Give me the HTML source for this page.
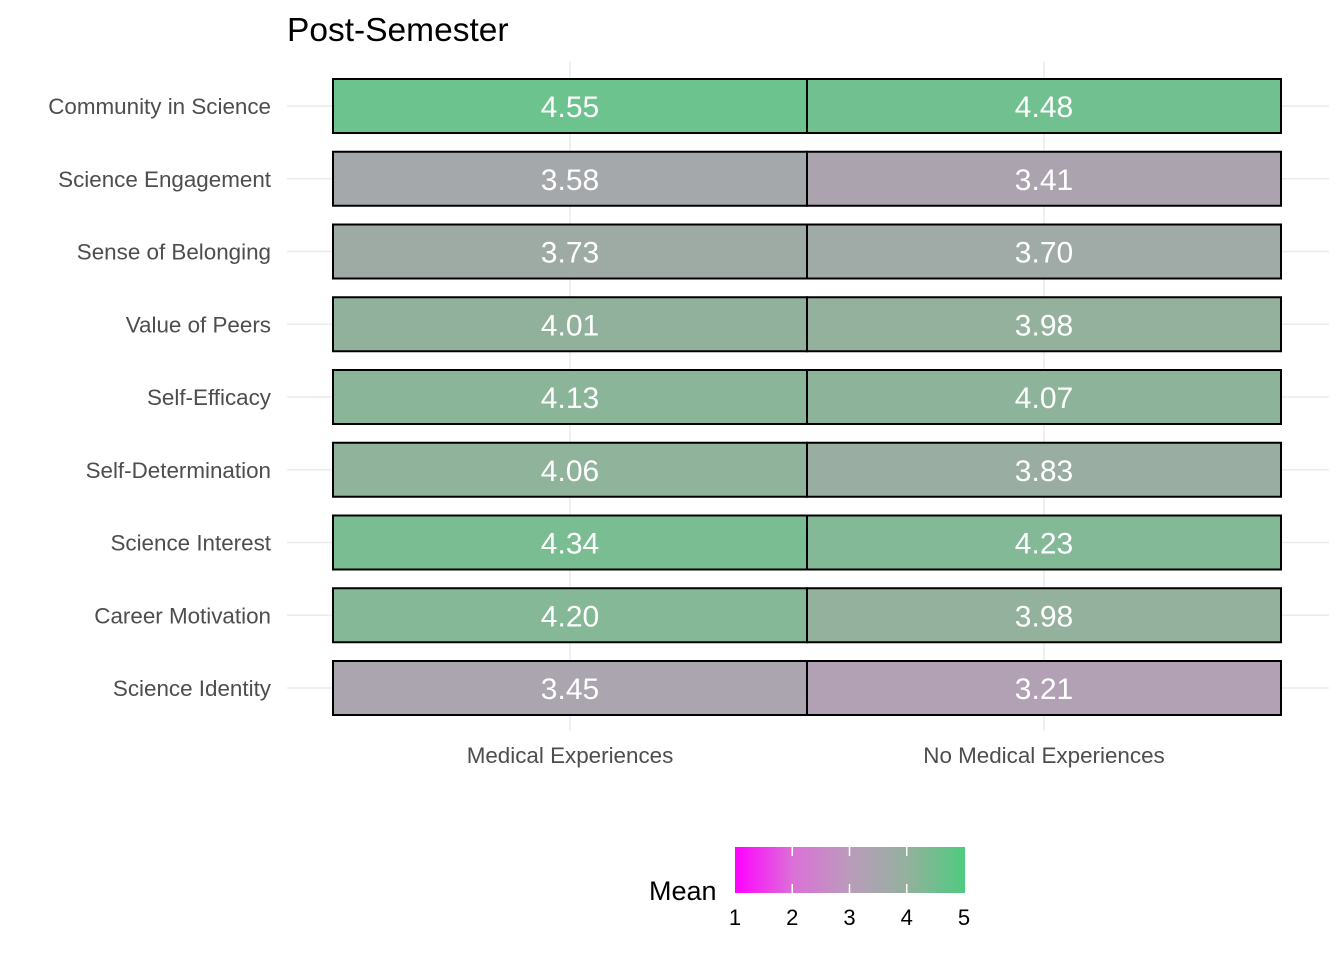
<!DOCTYPE html>
<html><head><meta charset="utf-8"><style>
body{margin:0;background:#fff;font-family:"Liberation Sans",sans-serif}
</style></head><body>
<svg id="c" width="1344" height="960" xmlns="http://www.w3.org/2000/svg">
<defs><linearGradient id="lg" x1="0" x2="1" y1="0" y2="0">
<stop offset="0" stop-color="#ff00ff"/><stop offset="0.25" stop-color="#dc70d8"/><stop offset="0.5" stop-color="#ba9cbb"/><stop offset="0.75" stop-color="#93b19d"/><stop offset="1" stop-color="#4ecb80"/></linearGradient></defs>
<text x="287" y="41" font-size="33.5" fill="#000">Post-Semester</text>
<g id="grid"></g><g id="tiles"></g><g id="labels"></g>
<text x="570" y="763" font-size="22.4" fill="#4d4d4d" text-anchor="middle">Medical Experiences</text>
<text x="1044" y="763" font-size="22.4" fill="#4d4d4d" text-anchor="middle">No Medical Experiences</text>
<g>
<text x="649" y="900" font-size="27" fill="#000">Mean</text>
<rect x="735" y="847" width="230" height="46" fill="url(#lg)"/>
<g id="lt"></g>
</g>
</svg>
<script>
const rows=["Community in Science","Science Engagement","Sense of Belonging","Value of Peers","Self-Efficacy","Self-Determination","Science Interest","Career Motivation","Science Identity"];
const cols=["Medical Experiences","No Medical Experiences"];
const medical=[4.55,3.58,3.73,4.01,4.13,4.06,4.34,4.20,3.45];
const noMedical=[4.48,3.41,3.70,3.98,4.07,3.83,4.23,3.98,3.21];
const legendTicks=[1,2,3,4,5];
const NS="http://www.w3.org/2000/svg";
const stops=[[1,[255,0,255]],[2,[220,112,216]],[3,[186,156,187]],[3.5,[168,166,172]],[4,[147,177,157]],[4.5,[112,194,143]],[5,[78,203,128]]];
function color(v){v=Math.max(1,Math.min(5,v));for(let i=0;i<stops.length-1;i++){const[a,ca]=stops[i],[b,cb]=stops[i+1];if(v<=b){const t=(v-a)/(b-a);return`rgb(${ca.map((c,k)=>Math.round(c+(cb[k]-c)*t)).join(',')})`;}}}
const y=i=>106+i*72.75, x=j=>333+j*474, tw=474, th=54;
const lx=v=>735+(v-1)/4*229;
function mk(t,a,p){const e=document.createElementNS(NS,t);for(const k in a)e.setAttribute(k,a[k]);p.appendChild(e);return e;}
const g=document.getElementById('grid'),T=document.getElementById('tiles'),L=document.getElementById('labels');
for(let j=0;j<2;j++){const l=mk('line',{x1:x(j)+tw/2,x2:x(j)+tw/2,y1:62,y2:731,stroke:'#ebebeb','stroke-width':1.5},g);

}
const data=[medical,noMedical];
rows.forEach((r,i)=>{
 const gl=mk('line',{x1:287,x2:1329,y1:y(i),y2:y(i),stroke:'#ebebeb','stroke-width':1.5},g);
 
 
 const t=mk('text',{x:271,y:y(i)+8,'font-size':22.4,fill:'#4d4d4d','text-anchor':'end'},L);t.textContent=r;
 
 
 for(let j=0;j<2;j++){const v=data[j][i];
  const rc=mk('rect',{x:x(j),y:y(i)-th/2,width:tw,height:th,fill:color(v),stroke:'#000','stroke-width':2},T);
  
  
  const tx=mk('text',{x:x(j)+tw/2,y:y(i)+11,'font-size':30,fill:'#fff','text-anchor':'middle'},L);tx.textContent=v.toFixed(2);
  
  }
});
const lt=document.getElementById('lt');
legendTicks.forEach(v=>{
 if(v>1&&v<5){mk('line',{x1:lx(v),x2:lx(v),y1:847,y2:856,stroke:'#fff','stroke-width':1.5},lt);mk('line',{x1:lx(v),x2:lx(v),y1:884,y2:893,stroke:'#fff','stroke-width':1.5},lt);}
 const t=mk('text',{x:lx(v),y:925,'font-size':22,fill:'#000','text-anchor':'middle'},lt);t.textContent=v;
 
 
});
</script>
</body></html>
